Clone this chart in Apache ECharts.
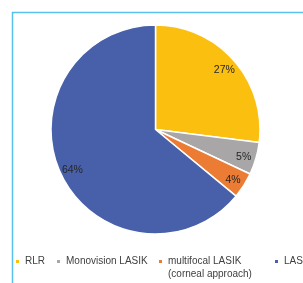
<!DOCTYPE html>
<html>
<head>
<meta charset="utf-8">
<script src="https://cdn.jsdelivr.net/npm/echarts@6/dist/echarts.min.js"></script>
<style>
  html, body { margin: 0; padding: 0; background: #fff; }
  #main { width: 303px; height: 283px; }
</style>
</head>
<body>
<div id="main"></div>
<script>
var categories = ['RLR', 'Monovision LASIK', 'multifocal LASIK\n(corneal approach)', 'LASIK'];
var shares = [27, 5, 4, 64];
var colors = ['#FBBF10', '#A8A6A6', '#EC7B33', '#4760A9'];

var pieData = categories.map(function (name, i) {
  return { name: name, value: shares[i], itemStyle: { color: colors[i] } };
});

// one legend per entry so they sit where the original ones sit
var legendLeft = [14, 55, 157, 273];
var legends = categories.map(function (name, i) {
  var multi = name.indexOf('\n') >= 0;
  return {
    data: [name],
    left: legendLeft[i],
    top: multi ? 242 : 255,
    icon: 'rect',
    itemWidth: 5,
    itemHeight: 5,
    selectedMode: false,
    padding: 0,
    // an empty line in front keeps the icon level with the first text line
    formatter: multi ? function (n) { return ' \n' + n; } : '{name}',
    textStyle: {
      fontFamily: 'Liberation Sans',
      fontSize: 10,
      color: '#404040',
      lineHeight: 13
    }
  };
});

var R = 104.5;
var myChart = echarts.init(document.getElementById('main'));
var option = {
  backgroundColor: '#fff',
  animation: false,
  graphic: [{
    type: 'rect',
    left: 10,
    top: 10,
    shape: { width: 400, height: 400 },
    style: { fill: 'none', stroke: '#58C0EE', lineWidth: 1.5 },
    silent: true
  }],
  legend: legends,
  series: [
    {
      type: 'pie',
      center: [155.5, 129.5],
      radius: [0, R],
      startAngle: 90,
      clockwise: true,
      data: pieData,
      label: { show: false },
      labelLine: { show: false },
      itemStyle: { borderColor: '#fff', borderWidth: 1.5 },
      silent: true
    },
    {
      // transparent ring used only to place the percent labels near the rim
      type: 'pie',
      center: [155.5, 131],
      radius: [R * 0.7, R],
      startAngle: 90,
      clockwise: true,
      data: categories.map(function (name, i) { return { name: name, value: shares[i] }; }),
      itemStyle: { color: 'rgba(0,0,0,0)' },
      label: {
        show: true,
        position: 'inside',
        formatter: '{c}%',
        fontFamily: 'Liberation Sans',
        fontSize: 10.5,
        color: '#262626'
      },
      labelLine: { show: false },
      silent: true
    }
  ]
};
myChart.setOption(option);
</script>
</body>
</html>
